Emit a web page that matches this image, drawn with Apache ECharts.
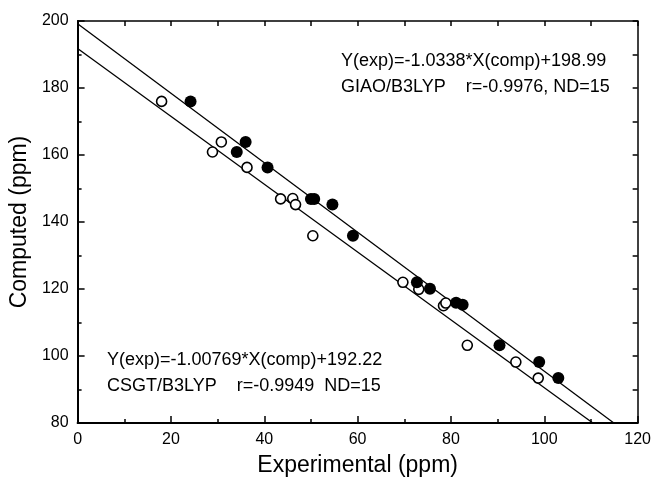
<!DOCTYPE html>
<html>
<head>
<meta charset="utf-8">
<script src="https://cdn.jsdelivr.net/npm/echarts@6/dist/echarts.min.js"></script>
<style>html,body{margin:0;padding:0;background:#fff}#c{width:654px;height:482px}</style>
</head>
<body>
<div id="c"></div>
<script>
// GIAO/B3LYP (filled circles): [experimental, computed]
const giaoPoints = [
  [24.2,176.0],[36.0,163.9],[34.1,160.9],[40.7,156.3],[50.0,146.9],[50.7,146.9],
  [54.6,145.2],[59.0,135.9],[72.7,122.0],[75.5,120.1],[81.1,115.9],[82.5,115.3],
  [90.4,103.2],[98.9,98.2],[103.0,93.4]
];
// CSGT/B3LYP (open circles)
const csgtPoints = [
  [18.0,176.0],[30.8,163.9],[28.9,160.9],[36.3,156.3],[43.5,146.9],[46.1,147.0],
  [46.7,145.2],[50.4,135.9],[69.7,122.0],[73.1,119.9],[78.4,115.0],[78.9,115.8],
  [83.5,103.2],[93.9,98.2],[98.7,93.4]
];
// Regression line end points
const giaoLine = [[0,199.2],[114.9,80]];
const csgtLine = [[0,191.8],[110.4,80]];
const xTicks = [0,20,40,60,80,100,120];
const yTicks = [80,100,120,140,160,180,200];
const giaoText = ['Y(exp)=-1.0338*X(comp)+198.99', 'GIAO/B3LYP    r=-0.9976, ND=15'];
const csgtText = ['Y(exp)=-1.00769*X(comp)+192.22', 'CSGT/B3LYP    r=-0.9949  ND=15'];

const FONT = '"Liberation Sans", Arial, sans-serif';
const chart = echarts.init(document.getElementById('c'), null, {renderer:'canvas'});
const grid = {left:77, right:13, top:21, bottom:59};
chart.setOption({
  animation:false,
  backgroundColor:'#fff',
  grid: grid,
  xAxis: [{
    type:'value', min:xTicks[0], max:xTicks[xTicks.length-1], interval:20,
    name:'Experimental (ppm)', nameLocation:'middle', nameGap:31,
    nameTextStyle:{fontFamily:FONT, fontSize:23, color:'#000'},
    axisLine:{show:true, onZero:false, lineStyle:{color:'#000', width:2}},
    axisTick:{show:true, inside:true, length:7, lineStyle:{color:'#000', width:1.5}},
    minorTick:{show:true, splitNumber:2, length:4, lineStyle:{color:'#000', width:1.5}},
    axisLabel:{fontFamily:FONT, fontSize:16, color:'#000', margin:9},
    splitLine:{show:false}
  },{
    type:'value', position:'top', min:xTicks[0], max:xTicks[xTicks.length-1], interval:10,
    axisLine:{show:true, onZero:false, lineStyle:{color:'#000', width:1.5}},
    axisTick:{show:true, inside:true, length:5, lineStyle:{color:'#000', width:1.5}},
    axisLabel:{show:false}, splitLine:{show:false}
  }],
  yAxis: [{
    type:'value', min:yTicks[0], max:yTicks[yTicks.length-1], interval:20,
    name:'Computed (ppm)', nameLocation:'middle', nameGap:43, nameRotate:90,
    nameTextStyle:{fontFamily:FONT, fontSize:23, color:'#000'},
    axisLine:{show:true, onZero:false, lineStyle:{color:'#000', width:2}},
    axisTick:{show:true, inside:true, length:7, lineStyle:{color:'#000', width:1.5}},
    minorTick:{show:true, splitNumber:2, length:4, lineStyle:{color:'#000', width:1.5}},
    axisLabel:{fontFamily:FONT, fontSize:16, color:'#000', margin:9},
    splitLine:{show:false}
  },{
    type:'value', position:'right', min:yTicks[0], max:yTicks[yTicks.length-1], interval:10,
    axisLine:{show:true, onZero:false, lineStyle:{color:'#000', width:1.5}},
    axisTick:{show:true, inside:true, length:5, lineStyle:{color:'#000', width:1.5}},
    axisLabel:{show:false}, splitLine:{show:false}
  }],
  series: [
    {type:'line', data:giaoLine, symbol:'none', clip:true,
     lineStyle:{color:'#000', width:1.3}, z:1},
    {type:'line', data:csgtLine, symbol:'none', clip:true,
     lineStyle:{color:'#000', width:1.3}, z:1},
    {type:'scatter', data:csgtPoints, symbol:'circle', symbolSize:10,
     itemStyle:{color:'#fff', borderColor:'#000', borderWidth:1.6, opacity:1}, z:3},
    {type:'scatter', data:giaoPoints, symbol:'circle', symbolSize:12,
     itemStyle:{color:'#000', borderColor:'#000', borderWidth:0, opacity:1}, z:4}
  ],
  graphic: [
    {type:'text', x:341, y:61, style:{text:giaoText[0], font:'18px '+FONT, fill:'#000', textVerticalAlign:'middle'}},
    {type:'text', x:341, y:87, style:{text:giaoText[1], font:'18px '+FONT, fill:'#000', textVerticalAlign:'middle'}},
    {type:'text', x:107, y:360, style:{text:csgtText[0], font:'18px '+FONT, fill:'#000', textVerticalAlign:'middle'}},
    {type:'text', x:107, y:386, style:{text:csgtText[1], font:'18px '+FONT, fill:'#000', textVerticalAlign:'middle'}}
  ]
});
</script>
</body>
</html>
